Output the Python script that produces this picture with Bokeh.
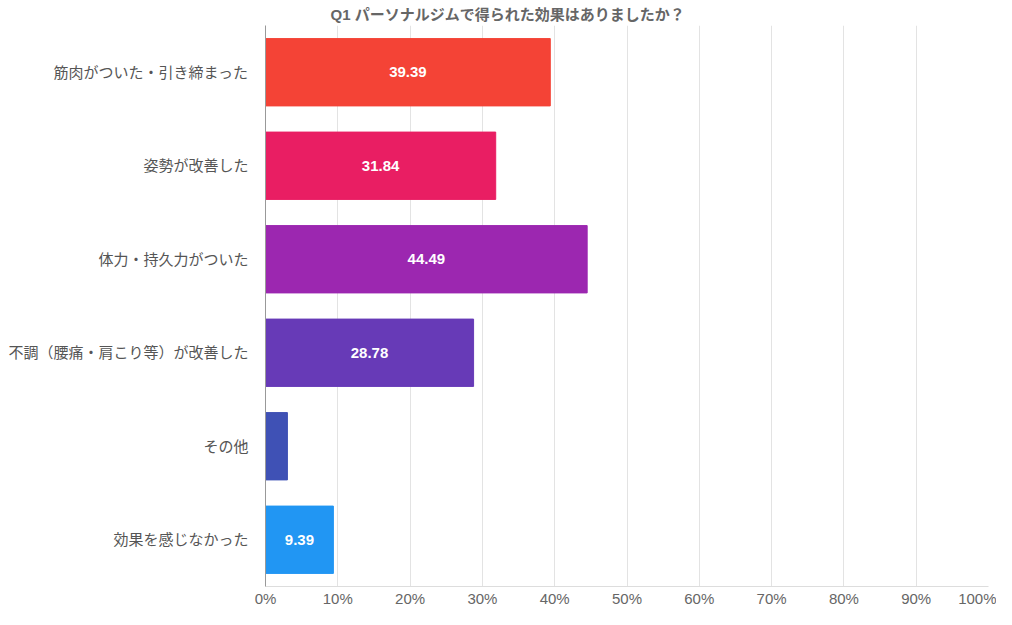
from bokeh.plotting import figure
from bokeh.models import ColumnDataSource, FixedTicker, PrintfTickFormatter, Range1d, Title
from bokeh.core.properties import value
from bokeh.embed import file_html
from bokeh.resources import INLINE

categories = ["筋肉がついた・引き締まった", "姿勢が改善した", "体力・持久力がついた",
              "不調（腰痛・肩こり等）が改善した", "その他", "効果を感じなかった"]
values = [39.39, 31.84, 44.49, 28.78, 3.03, 9.39]
bar_labels = ["39.39", "31.84", "44.49", "28.78", "", "9.39"]
colors = ["#F44336", "#E91E63", "#9C27B0", "#673AB7", "#3F51B5", "#2196F3"]
x_ticks = [0, 10, 20, 30, 40, 50, 60, 70, 80, 90, 100]
title_text = "Q1 パーソナルジムで得られた効果はありましたか？"

FONT = "Liberation Sans, Noto Sans CJK JP"
LATIN = "Liberation Sans"

src = ColumnDataSource(dict(cat=categories, val=values, mid=[v / 2 for v in values],
                            lab=bar_labels, col=colors))

p = figure(width=996, height=609, y_range=list(reversed(categories)),
           x_range=Range1d(0, 100), output_backend="svg", toolbar_location=None,
           min_border_left=265, min_border_right=8, min_border_top=25, min_border_bottom=0)
p.title = Title(text=title_text, align="left", offset=65, text_font=FONT,
                text_font_size="15px", text_font_style="bold", text_color="#666666",
                standoff=5)

p.hbar(y="cat", right="val", left=0, height=0.72, color="col", source=src)
p.text(x="mid", y="cat", text="lab", source=src, text_align="center", text_baseline="middle",
       text_color="white", text_font=value(LATIN), text_font_style="bold", text_font_size="15px")

p.outline_line_color = None
p.ygrid.grid_line_color = None
p.xgrid.grid_line_color = "#e3e3e3"
p.xgrid.ticker = FixedTicker(ticks=x_ticks)

p.xaxis.ticker = FixedTicker(ticks=x_ticks)
p.xaxis.formatter = PrintfTickFormatter(format="%d%%")
p.xaxis.axis_line_color = "#dddddd"
p.xaxis.major_tick_line_color = None
p.xaxis.minor_tick_line_color = None
p.xaxis.major_tick_out = 0
p.xaxis.major_tick_in = 0
p.xaxis.minor_tick_out = 0
p.xaxis.major_label_text_font = LATIN
p.xaxis.major_label_text_font_size = "15px"
p.xaxis.major_label_text_color = "#666666"
p.xaxis.major_label_standoff = 3

p.yaxis.axis_line_color = "#999999"
p.yaxis.major_tick_line_color = None
p.yaxis.minor_tick_line_color = None
p.yaxis.major_tick_out = 0
p.yaxis.major_tick_in = 0
p.yaxis.minor_tick_out = 0
p.yaxis.major_label_text_font = FONT
p.yaxis.major_label_text_font_size = "15px"
p.yaxis.major_label_text_color = "#555555"
p.yaxis.major_label_standoff = 17

open("out.html", "w").write(file_html(p, INLINE))
